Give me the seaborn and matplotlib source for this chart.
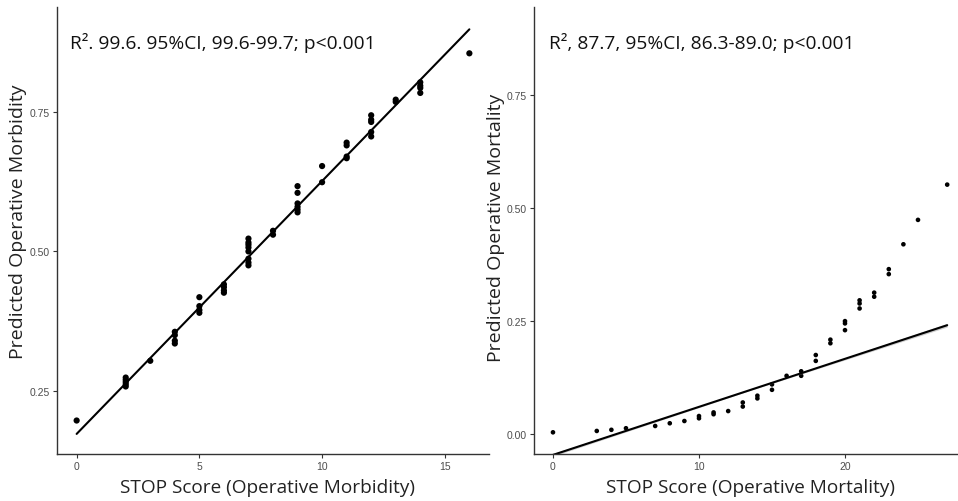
import numpy as np
import pandas as pd
import matplotlib
matplotlib.use("Agg")
import matplotlib.pyplot as plt
import seaborn as sns

# Left panel: STOP score vs predicted operative morbidity
morb_score = [0, 2, 2, 2, 2, 2, 3, 4, 4, 4, 4, 5, 5, 5, 5, 6, 6, 6, 6,
              7, 7, 7, 7, 7, 7, 7, 7, 8, 8, 9, 9, 9, 9, 9, 9, 10, 10,
              11, 11, 11, 11, 12, 12, 12, 12, 12, 13, 13, 14, 14, 14, 14, 16]
morb_pred = [0.197, 0.258, 0.262, 0.266, 0.270, 0.274, 0.304, 0.356, 0.350, 0.340, 0.335,
             0.418, 0.402, 0.395, 0.390, 0.441, 0.436, 0.430, 0.426,
             0.523, 0.516, 0.512, 0.507, 0.500, 0.487, 0.480, 0.475, 0.537, 0.530,
             0.617, 0.605, 0.586, 0.580, 0.575, 0.570, 0.653, 0.624,
             0.695, 0.690, 0.670, 0.667, 0.744, 0.736, 0.732, 0.714, 0.706,
             0.772, 0.768, 0.803, 0.797, 0.793, 0.784, 0.855]
morb_line_x = [0, 16]
morb_line_y = [0.173, 0.898]

# Right panel: STOP score vs predicted operative mortality
mort_score = [0, 3, 4, 5, 7, 8, 9, 10, 10, 11, 11, 12, 13, 13, 14, 14, 15, 15,
              16, 17, 17, 18, 18, 19, 19, 20, 20, 20, 21, 21, 21, 22, 22,
              23, 23, 24, 25, 27]
mort_pred = [0.004, 0.007, 0.0095, 0.013, 0.018, 0.024, 0.029, 0.040, 0.035, 0.048, 0.044,
             0.051, 0.070, 0.061, 0.085, 0.079, 0.110, 0.098, 0.129, 0.139, 0.129,
             0.175, 0.162, 0.209, 0.201, 0.250, 0.245, 0.230, 0.296, 0.289, 0.278,
             0.313, 0.304, 0.365, 0.354, 0.420, 0.474, 0.552]
mort_line_x = [0, 13.5, 27]
mort_line_y = [-0.046, 0.0975, 0.241]
mort_line_lo = [-0.049, 0.0965, 0.237]
mort_line_hi = [-0.043, 0.0985, 0.245]

morb_text = "R². 99.6. 95%CI, 99.6-99.7; p<0.001"
mort_text = "R², 87.7, 95%CI, 86.3-89.0; p<0.001"

sns.set_theme(style="ticks")
plt.rcParams['font.family'] = ['Open Sans', 'DejaVu Sans']

W, H = 958, 502
fig = plt.figure(figsize=(W / 100, H / 100), dpi=100)


def px_axes(left, top, right, bottom):
    return fig.add_axes([left / W, 1 - bottom / H, (right - left) / W, (bottom - top) / H])


def style_axes(ax):
    sns.despine(ax=ax)
    for s in ['left', 'bottom']:
        ax.spines[s].set_color('#333333')
        ax.spines[s].set_linewidth(1.0)
    ax.tick_params(axis='both', length=3, width=0.8, color='#333333',
                   labelcolor='#4d4d4d', labelsize=7.5, pad=2)
    for lab in ax.get_xticklabels() + ax.get_yticklabels():
        lab.set_family(['Liberation Sans', 'DejaVu Sans'])


# left panel
ax1 = px_axes(57, 8, 489, 455)
df1 = pd.DataFrame({'score': morb_score, 'pred': morb_pred})
sns.scatterplot(data=df1, x='score', y='pred', ax=ax1, color='black', s=20,
                edgecolor='none', linewidth=0)
sns.lineplot(x=morb_line_x, y=morb_line_y, ax=ax1, color='black', linewidth=1.5)
ax1.set_xlim(-0.8, 16.8)
ax1.set_ylim(0.137, 0.938)
ax1.set_xticks([0, 5, 10, 15])
ax1.set_yticks([0.25, 0.50, 0.75])
ax1.set_yticklabels(['0.25', '0.50', '0.75'])
style_axes(ax1)
ax1.set_xlabel('STOP Score (Operative Morbidity)', fontsize=13.7, color='#222222')
ax1.set_ylabel('Predicted Operative Morbidity', fontsize=14, color='#222222')
ax1.xaxis.set_label_coords(0.487, -0.074)
ax1.yaxis.set_label_coords(-0.090, 0.522)
ax1.xaxis.label.set_va('center')
ax1.yaxis.label.set_va('center')
ax1.text(0.030, 0.922, morb_text, transform=ax1.transAxes, fontsize=13.8,
         va='center', ha='left', color='#111111')

# right panel
ax2 = px_axes(533.7, 8, 958, 455)
df2 = pd.DataFrame({'score': mort_score, 'pred': mort_pred})
sns.scatterplot(data=df2, x='score', y='pred', ax=ax2, color='black', s=11,
                edgecolor='none', linewidth=0)
ax2.fill_between(mort_line_x, mort_line_lo, mort_line_hi, color='#999999', alpha=0.5,
                 linewidth=0)
sns.lineplot(x=mort_line_x, y=mort_line_y, ax=ax2, color='black', linewidth=1.5)
ax2.set_xlim(-1.32, 27.74)
ax2.set_ylim(-0.044, 0.945)
ax2.set_xticks([0, 10, 20])
ax2.set_yticks([0.0, 0.25, 0.50, 0.75])
ax2.set_yticklabels(['0.00', '0.25', '0.50', '0.75'])
style_axes(ax2)
ax2.set_xlabel('STOP Score (Operative Mortality)', fontsize=13.7, color='#222222')
ax2.set_ylabel('Predicted Operative Mortality', fontsize=14, color='#222222')
ax2.xaxis.set_label_coords(0.512, -0.074)
ax2.yaxis.set_label_coords(-0.089, 0.509)
ax2.xaxis.label.set_va('center')
ax2.yaxis.label.set_va('center')
ax2.text(0.036, 0.922, mort_text, transform=ax2.transAxes, fontsize=13.8,
         va='center', ha='left', color='#111111')

fig.savefig('out.png', dpi=100)
